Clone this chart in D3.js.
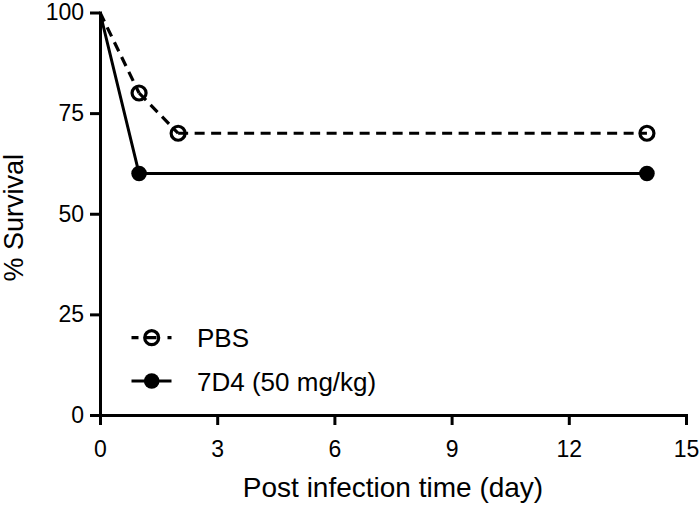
<!DOCTYPE html>
<html>
<head>
<meta charset="utf-8">
<script src="https://cdn.jsdelivr.net/npm/d3@7"></script>
<style>
  html, body { margin: 0; padding: 0; background: #fff; }
  svg { display: block; font-family: "Liberation Sans", Arial, Helvetica, sans-serif; }
</style>
</head>
<body>
<svg id="chart" width="700" height="511"></svg>
<script>
// ---- Data ----
const pbsDays = [0, 1, 2, 14];
const pbsSurvival = [100, 80, 70, 70];
const d74Days = [0, 1, 14];
const d74Survival = [100, 60, 60];
const seriesNames = ["PBS", "7D4 (50 mg/kg)"];
const xTicks = [0, 3, 6, 9, 12, 15];
const yTicks = [0, 25, 50, 75, 100];
const xTitle = "Post infection time (day)";
const yTitle = "% Survival";

// ---- Layout ----
const svg = d3.select("#chart");
const x = d3.scaleLinear().domain([0, 15]).range([100, 686]);
const y = d3.scaleLinear().domain([0, 100]).range([415, 12.5]);

const pbs = pbsDays.map((d, i) => ({ x: d, y: pbsSurvival[i] }));
const d74 = d74Days.map((d, i) => ({ x: d, y: d74Survival[i] }));

// Axes
const xAxis = d3.axisBottom(x).tickValues(xTicks).tickSize(10).tickSizeOuter(0).tickPadding(16);
const yAxis = d3.axisLeft(y).tickValues(yTicks).tickSize(10).tickSizeOuter(0).tickPadding(6);

const gx = svg.append("g").attr("transform", `translate(0,${y(0)})`).call(xAxis);
const gy = svg.append("g").attr("transform", `translate(${x(0)},0)`).call(yAxis);

[gx, gy].forEach(g => {
  g.selectAll(".domain").attr("stroke", "#000").attr("stroke-width", 3).attr("stroke-linecap", "square");
  g.selectAll(".tick line").attr("stroke", "#000").attr("stroke-width", 3);
  g.selectAll(".tick text").attr("fill", "#000").style("font-size", "23px")
    .style("font-family", '"Liberation Sans", Arial, sans-serif');
});

// Axis titles
svg.append("text")
  .attr("x", (x(0) + x(15)) / 2).attr("y", 497)
  .attr("text-anchor", "middle")
  .style("font-size", "28px")
  .text(xTitle);

svg.append("text")
  .attr("transform", `translate(23,${(y(0) + y(100)) / 2 + 4}) rotate(-90)`)
  .attr("text-anchor", "middle")
  .style("font-size", "27px")
  .text(yTitle);

// Lines
const line = d3.line().x(d => x(d.x)).y(d => y(d.y));

// PBS: dashed, each segment starts its own dash pattern
d3.pairs(pbs).forEach(([a, b]) => {
  svg.append("path")
    .attr("d", line([a, b]))
    .attr("fill", "none").attr("stroke", "#000").attr("stroke-width", 3.2)
    .attr("stroke-dasharray", "10,6.5");
});

svg.append("path")
  .attr("d", line(d74))
  .attr("fill", "none").attr("stroke", "#000").attr("stroke-width", 3);

// Markers (day 0 markers hidden behind the axis in the original)
svg.selectAll(".pbsPt").data(pbs.filter(d => d.x > 0)).enter().append("circle")
  .attr("cx", d => x(d.x)).attr("cy", d => y(d.y)).attr("r", 7)
  .attr("fill", "none").attr("stroke", "#000").attr("stroke-width", 3.2);

svg.selectAll(".d74Pt").data(d74.filter(d => d.x > 0)).enter().append("circle")
  .attr("cx", d => x(d.x)).attr("cy", d => y(d.y)).attr("r", 7.8)
  .attr("fill", "#000");

// Legend
const lg = svg.append("g");
const legendRows = [
  { name: seriesNames[0], cy: 337.7, dashed: true },
  { name: seriesNames[1], cy: 381, dashed: false }
];
legendRows.forEach(r => {
  lg.append("line")
    .attr("x1", 131.5).attr("x2", 171.5).attr("y1", r.cy).attr("y2", r.cy)
    .attr("stroke", "#000").attr("stroke-width", 3.2)
    .attr("stroke-dasharray", r.dashed ? "7,6,12,11,4" : null);
  if (r.dashed) {
    lg.append("circle").attr("cx", 151.7).attr("cy", r.cy).attr("r", 7)
      .attr("fill", "none").attr("stroke", "#000").attr("stroke-width", 3.2);
  } else {
    lg.append("circle").attr("cx", 151.7).attr("cy", r.cy).attr("r", 7.8).attr("fill", "#000");
  }
  lg.append("text").attr("x", 197).attr("y", r.cy + 9.5)
    .style("font-size", "26px").text(r.name);
});
</script>
</body>
</html>
